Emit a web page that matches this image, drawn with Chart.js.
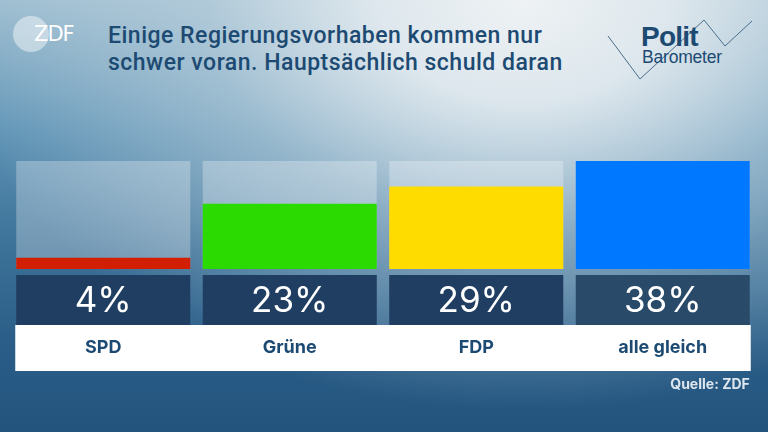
<!DOCTYPE html>
<html><head><meta charset="utf-8">
<script src="https://cdn.jsdelivr.net/npm/chart.js@4"></script>
<style>
html,body{margin:0;padding:0;}
#wrap{position:relative;width:768px;height:432px;overflow:hidden;
 background:
  radial-gradient(ellipse 75% 95% at 68% 0%, rgba(238,242,244,1) 0%, rgba(226,234,239,0.95) 25%, rgba(190,210,222,0.6) 55%, rgba(160,190,208,0) 100%),
  linear-gradient(to bottom, #9cbdd0 0%, #5f94b6 30%, #3b7097 58%, #2a5d87 80%, #22547e 100%);}
#chart{position:absolute;left:0;top:0;}
.title{position:absolute;left:108px;top:22px;font:500 23px Roboto, sans-serif;color:#1c4a72;line-height:27px;letter-spacing:0.5px;}
.zdfc{position:absolute;left:13px;top:16px;width:36px;height:36px;border-radius:50%;background:rgba(255,255,255,0.45);}
.zdft{position:absolute;left:34px;top:22px;font:400 21px "DejaVu Sans", sans-serif;color:#fff;letter-spacing:-1px;}
.polit{position:absolute;left:641px;top:21px;font:700 28px "Liberation Sans", Arial, sans-serif;color:#1c4a72;letter-spacing:-0.8px;}
.baro{position:absolute;left:642px;top:47px;font:400 17.5px "Liberation Sans", Arial, sans-serif;color:#1c4a72;letter-spacing:-0.2px;}
#logo{position:absolute;left:0;top:0;}
</style></head>
<body><div id="wrap">
<svg id="logo" width="768" height="120"><polyline points="608,36 640,79 704,20 725,46 752,21" fill="none" stroke="#4a6f8c" stroke-width="1"/></svg>
<div class="zdfc"></div><div class="zdft">ZDF</div>
<div class="title">Einige Regierungsvorhaben kommen nur<br>schwer voran. Hauptsächlich schuld daran</div>
<div class="polit">Polit</div><div class="baro">Barometer</div>
<canvas id="chart" width="768" height="432"></canvas>
</div>
<script>
const categories = ['SPD', 'Grüne', 'FDP', 'alle gleich'];
const values = [4, 23, 29, 38];
const trackMax = [38, 38, 38, 38];
const source = 'Quelle: ZDF';

const barColors = ['#d21e02', '#2bda00', '#ffdc00', '#0078ff'];

const overlay = {
  id: 'overlay',
  afterDatasetsDraw(chart) {
    const ctx = chart.ctx;
    const meta = chart.getDatasetMeta(1);
    const bars = meta.data;
    ctx.save();
    bars.forEach((el, i) => {
      const w = el.width;
      ctx.fillStyle = i === 3 ? '#294a69' : '#1f3e61';
      ctx.fillRect(el.x - w / 2, 275, w, 50);
      ctx.fillStyle = '#ffffff';
      ctx.font = '400 35px Inter, sans-serif';
      ctx.textAlign = 'center';
      ctx.textBaseline = 'middle';
      ctx.fillText(values[i] + '%', el.x, 301);
    });
    const first = bars[0], last = bars[bars.length - 1];
    const x0 = first.x - first.width / 2 - 1, x1 = last.x + last.width / 2 + 1;
    ctx.fillStyle = '#ffffff';
    ctx.fillRect(x0, 325, x1 - x0, 46);
    ctx.fillStyle = '#1d4a72';
    ctx.font = '700 18px Inter, sans-serif';
    bars.forEach((el, i) => {
      ctx.fillText(chart.data.labels[i], el.x, 348);
    });
    ctx.fillStyle = '#dde6ee';
    ctx.font = '700 14px Inter, sans-serif';
    ctx.textAlign = 'right';
    ctx.fillText(source, x1 - 1, 385);
    ctx.restore();
  }
};

new Chart(document.getElementById('chart'), {
  type: 'bar',
  data: {
    labels: categories,
    datasets: [
      { data: trackMax, backgroundColor: 'rgba(255,255,255,0.28)', order: 2, grouped: false },
      { data: values, backgroundColor: barColors, order: 1, grouped: false }
    ]
  },
  options: {
    responsive: false,
    devicePixelRatio: 1,
    animation: false,
    layout: { padding: { left: 10, right: 12, top: 161, bottom: 163 } },
    datasets: { bar: { barPercentage: 0.933, categoryPercentage: 1, borderWidth: 0 } },
    scales: {
      x: { display: false },
      y: { display: false, min: 0, max: 38 }
    },
    plugins: { legend: { display: false }, tooltip: { enabled: false }, title: { display: false } }
  },
  plugins: [overlay]
});
</script>
</body></html>
